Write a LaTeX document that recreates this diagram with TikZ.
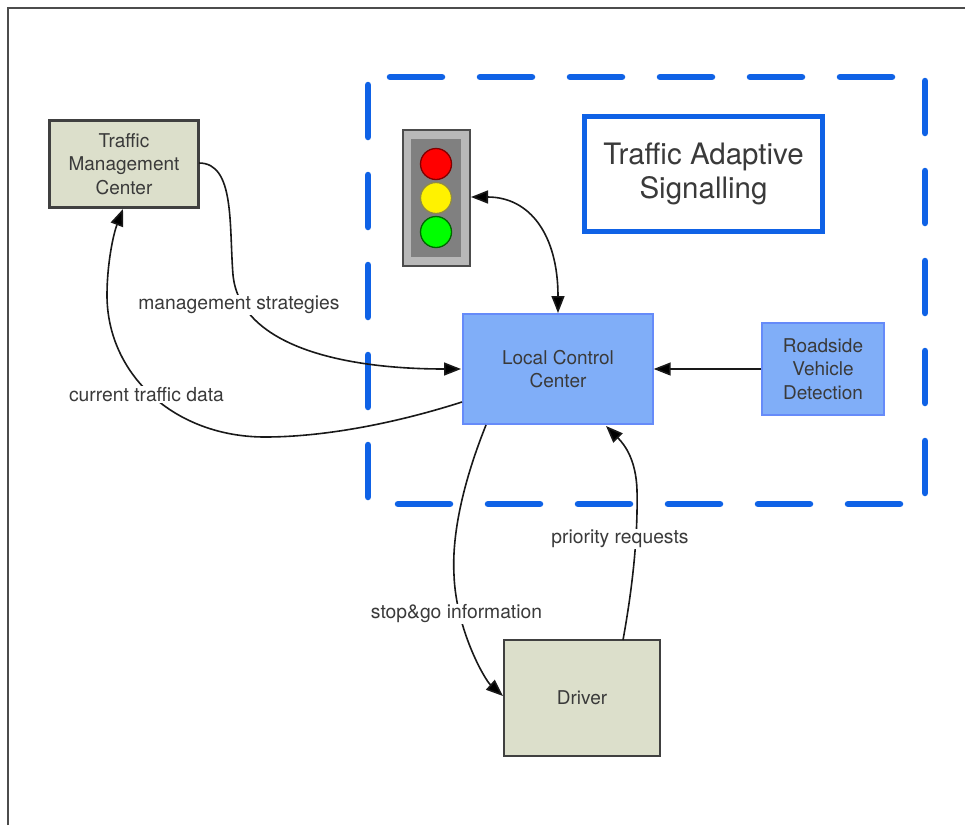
\documentclass[tikz,border=0pt]{standalone}
\usepackage{fontspec}
\setmainfont{TeX Gyre Heros}
\usetikzlibrary{arrows.meta}
\definecolor{txt}{HTML}{3A3A3A}
\definecolor{khaki}{HTML}{DCDFCB}
\definecolor{lblue}{HTML}{80AEF8}
\definecolor{dblue}{HTML}{0F62E6}
\tikzset{
  x=1pt,y=-1pt,
  boxbase/.style={draw,anchor=center,align=center,inner sep=0pt,text=txt,font=\fontsize{19}{23.5}\selectfont},
  khakibox/.style={boxbase,fill=khaki,draw=black!75,line width=2.2pt},
  bluebox/.style={boxbase,fill=lblue,draw=lblue!80!blue,line width=1.4pt},
  flow/.style={draw=black!90,line width=1.6pt,-{Triangle[length=17pt,width=13pt,fill=black]}},
  twoway/.style={draw=black!90,line width=1.6pt,{Triangle[length=17pt,width=13pt,fill=black]}-{Triangle[length=17pt,width=13pt,fill=black]}},
  lbl/.style={fill=white,inner sep=1pt,text=txt,font=\fontsize{19.3}{22}\selectfont},
  bluedash/.style={draw=dblue,line width=6.5pt,line cap=round,dash pattern=on 52pt off 38pt},
  lamp/.style={circle,minimum size=31pt,inner sep=0pt,line width=1.3pt},
}
\begin{document}
\begin{tikzpicture}
\useasboundingbox (0,0) rectangle (965,825);
\fill[white] (0,0) rectangle (965,825);
\draw[black!70,line width=1.8pt] (8,825) -- (8,8) -- (965,8);
% dashed border
\draw[bluedash] (390,77) -- (925,77);
\draw[bluedash] (925,81) -- (925,500);
\draw[bluedash] (398,504) -- (925,504);
\draw[bluedash] (368,85) -- (368,500);
% title
\node[draw=dblue,line width=4.5pt,minimum width=238pt,minimum height=115pt,align=center,inner sep=0pt,text=txt,font=\fontsize{29.5}{34}\selectfont] (title) at (703.5,174) {\raisebox{-1pt}{Traffic Adaptive}\\\raisebox{-1pt}{Signalling}};
% signal
\node[draw=black!70,fill=black!28,line width=2pt,minimum width=67pt,minimum height=136pt,inner sep=0pt] (signal) at (436,197.5) {};
\node[fill=black!50,minimum width=50pt,minimum height=118pt,inner sep=0pt] (signalin) at (436,197.5) {};
\node[lamp,fill=red,draw=red!50!black] (lr) at (436,164) {};
\node[lamp,fill=yellow,draw=yellow!50!black] (ly) at (436,198) {};
\node[lamp,fill=green,draw=green!40!black] (lg) at (436,232) {};
% boxes
\node[khakibox,minimum width=149pt,minimum height=87pt] (tmc) at (124,164) {Traffic\\Management\\Center};
\node[bluebox,minimum width=190pt,minimum height=110pt] (lcc) at (558,369) {Local Control\\Center};
\node[bluebox,minimum width=122pt,minimum height=92pt] (rvd) at (823,369) {Roadside\\Vehicle\\Detection};
\node[khakibox,line width=1.4pt,minimum width=156pt,minimum height=116pt] (driver) at (582,698) {Driver};
% connectors
\coordinate (a1) at (199,163);
\coordinate (a2) at (461,369);
\draw[flow] (a1) .. controls (235,163) and (229,225) .. (233,275) .. controls (240,345) and (340,369) .. (a2);
\coordinate (b1) at (462,402);
\coordinate (b2) at (123,209);
\draw[flow] (b1) .. controls (390,425) and (320,437) .. (265,437) .. controls (175,437) and (107,375) .. (107,295) .. controls (107,265) and (113,235) .. (b2);
\coordinate (c1) at (471,197);
\coordinate (c2) at (558,313);
\draw[twoway] (c1) .. controls (530,197) and (558,235) .. (c2);
\draw[flow] (rvd.west) -- (lcc.east);
\coordinate (d1) at (486,425);
\coordinate (d2) at (503,696);
\draw[flow] (d1) .. controls (460,490) and (452,540) .. (454,575) .. controls (456,630) and (485,680) .. (d2);
\coordinate (e1) at (623,640);
\coordinate (e2) at (606,426);
\draw[flow] (e1) .. controls (632,590) and (638,540) .. (637,490) .. controls (636,460) and (625,445) .. (e2);
% labels
\node[lbl] (l1) at (239,305) {management strategies};
\node[lbl] (l2) at (146.5,394.5) {current traffic data};
\node[lbl] (l3) at (456.5,614) {stop\&go information};
\node[lbl] (l4) at (620,539) {priority requests};
\end{tikzpicture}
\end{document}
